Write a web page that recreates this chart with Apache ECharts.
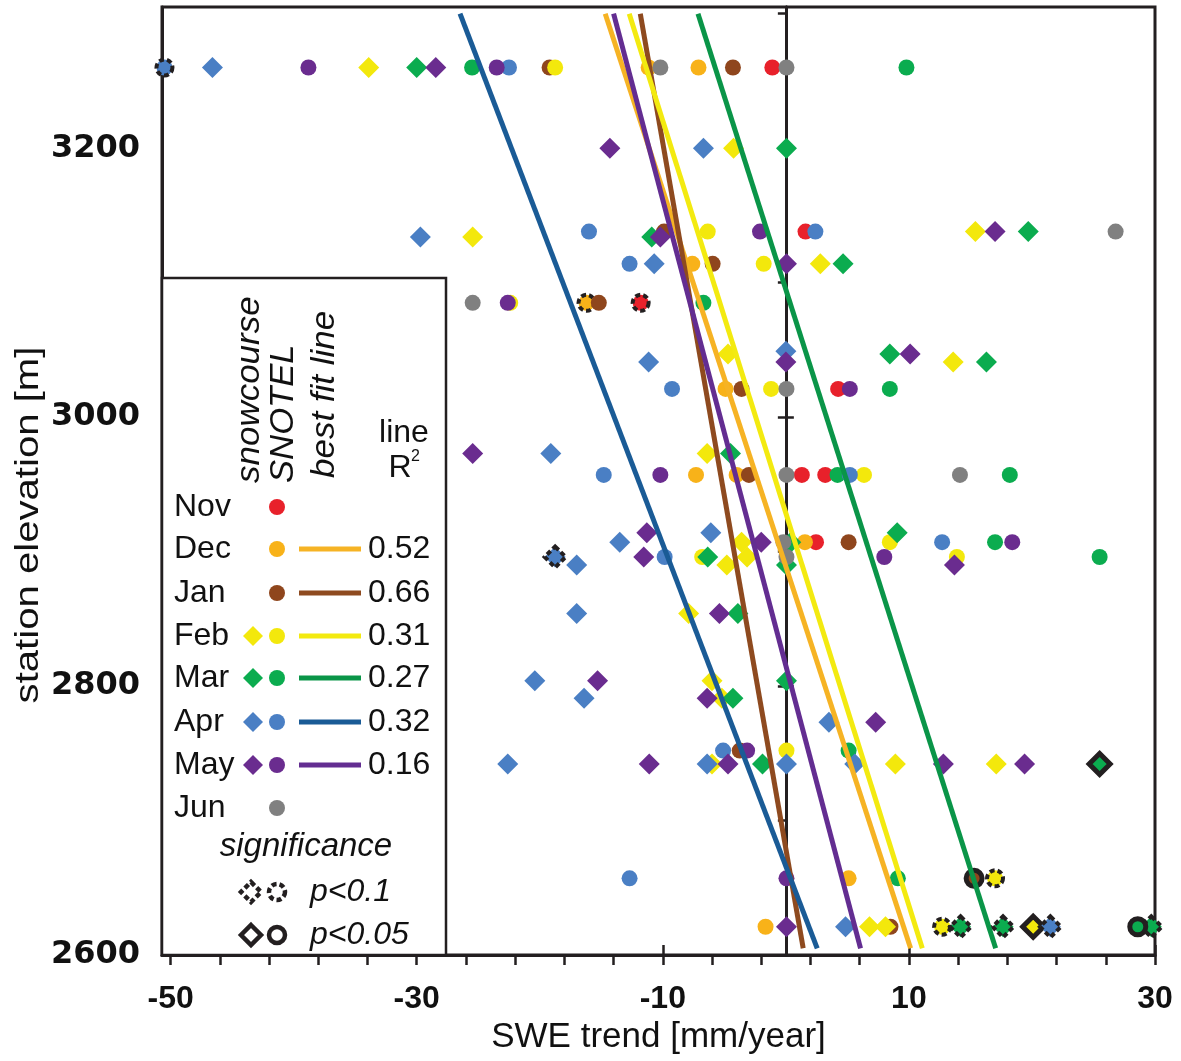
<!DOCTYPE html>
<html>
<head>
<meta charset="utf-8">
<script src="https://cdn.jsdelivr.net/npm/echarts@6/dist/echarts.min.js"></script>
<style>
html, body { margin: 0; padding: 0; background: #fff; }
#chart { width: 1181px; height: 1061px; }
</style>
</head>
<body>
<div id="chart"></div>
<script>
// tick / label values
const xTickValues = [-50,-46,-42,-38,-34,-30,-26,-22,-18,-14,-10,-6,-2,2,6,10,14,18,22,26,30];
const xLabelValues = [-50,-30,-10,10,30];
const yLabelValues = [2600,2800,3000,3200];
const zeroTickValues = [2600,2700,2800,2900,3000,3100,3200,3300];
const zeroCrossValues = [2600,2800,3000,3200];

// [SWE trend, elevation, significance (0 none, 1 p<0.1, 2 p<0.05)]
const novSnotel = [[-1.1,3260,0],[1.6,3138,0],[-11.8,3085,1],[4.25,3021,0],[1.3,2957,0],[3.2,2957,0],[2.45,2907,0]];
const decSnotel = [[-11.15,3260,0],[-7.1,3260,0],[-7.6,3114,0],[-16.2,3085,1],[-4.9,3021,0],[-7.3,2957,0],[-4.0,2957,0],[1.55,2907,0],[5.1,2657,0],[-1.65,2621,0]];
const janSnotel = [[-19.2,3260,0],[-4.3,3260,0],[-9.9,3138,0],[-5.95,3114,0],[-15.2,3085,0],[-3.6,3021,0],[-3.0,2957,0],[5.1,2907,0],[-3.75,2752,0],[15.3,2657,2],[8.5,2621,0]];
const febSnowcourse = [[-33.9,3260,0],[-4.25,3200,0],[-25.45,3134,0],[15.4,3138,0],[2.8,3114,0],[-4.7,3047,0],[13.6,3041,0],[-6.4,2973,0],[-3.6,2907,0],[-3.15,2896,0],[-4.8,2890,0],[-7.9,2854,0],[-6.0,2804,0],[-5.2,2791,0],[-6.0,2742,0],[8.9,2742,0],[17.1,2742,0],[6.8,2621,0],[8.1,2621,0],[20.1,2621,2]];
const febSnotel = [[-18.75,3260,0],[-6.35,3138,0],[-1.8,3114,0],[-22.4,3085,0],[-1.2,3021,0],[6.35,2957,0],[8.45,2907,0],[-6.8,2896,0],[13.9,2896,0],[0.05,2752,0],[17.0,2657,1],[12.7,2621,1]];
const marSnowcourse = [[-30.0,3260,0],[0.05,3200,0],[-10.9,3134,0],[4.65,3114,0],[19.7,3138,0],[8.45,3047,0],[16.3,3041,0],[-4.5,2973,0],[0.4,2907,0],[9.05,2914,0],[-6.35,2896,0],[0.05,2890,0],[-3.9,2854,0],[0.05,2804,0],[-4.3,2791,0],[-1.9,2742,0],[25.5,2742,2],[14.2,2621,1],[17.65,2621,1],[29.7,2621,1]];
const marSnotel = [[-25.5,3260,0],[9.8,3260,0],[-6.7,3085,0],[8.45,3021,0],[4.2,2957,0],[18.2,2957,0],[17.0,2907,0],[25.5,2896,0],[5.1,2752,0],[9.1,2657,0],[28.6,2621,2]];
const aprSnowcourse = [[-46.6,3260,0],[-6.7,3200,0],[-29.7,3134,0],[-10.7,3114,0],[0.0,3049,0],[-11.15,3041,0],[-19.1,2973,0],[-6.1,2914,0],[-13.5,2907,0],[-18.75,2896,1],[-17.0,2890,0],[-17.0,2854,0],[-20.4,2804,0],[-16.4,2791,0],[3.5,2773,0],[-22.6,2742,0],[-6.4,2742,0],[0.05,2742,0],[5.6,2742,0],[4.85,2621,0],[21.5,2621,1]];
const aprSnotel = [[-50.5,3260,1],[-22.5,3260,0],[-16.0,3138,0],[2.4,3138,0],[-12.7,3114,0],[-9.25,3021,0],[-14.8,2957,0],[5.2,2957,0],[12.7,2907,0],[-9.85,2896,0],[-5.1,2752,0],[-12.7,2657,0]];
const maySnowcourse = [[-28.45,3260,0],[-14.3,3200,0],[-10.2,3134,0],[17.0,3138,0],[0.05,3114,0],[10.1,3047,0],[0.0,3041,0],[-25.45,2973,0],[-11.3,2914,0],[-2.0,2907,0],[-11.55,2896,0],[13.7,2890,0],[-5.4,2854,0],[-15.3,2804,0],[-6.4,2791,0],[7.3,2773,0],[-11.1,2742,0],[-4.7,2742,0],[12.8,2742,0],[19.4,2742,0],[0.05,2621,0]];
const maySnotel = [[-38.8,3260,0],[-23.5,3260,0],[-2.1,3138,0],[-22.6,3085,0],[5.2,3021,0],[-10.2,2957,0],[18.4,2907,0],[8.0,2896,0],[-3.15,2752,0],[0.05,2657,0]];
const junSnotel = [[-10.2,3260,0],[0.05,3260,0],[26.8,3138,0],[-25.45,3085,0],[0.05,3021,0],[0.05,2957,0],[14.15,2957,0],[-0.2,2907,0],[0.05,2896,0]];

// best fit lines: trend at the top (3300 m) and bottom (2605 m) ends
const fitMonths = ['Dec','Jan','Feb','Mar','Apr','May'];
const fitElevation = [3300, 2605];
const fitTrendTop = [-14.68, -11.83, -12.73, -7.14, -26.48, -14.0];
const fitTrendBottom = [10.14, 1.41, 11.09, 17.05, 2.55, 6.07];
const fitR2 = ['0.52','0.66','0.31','0.27','0.32','0.16'];

const months = ['Nov','Dec','Jan','Feb','Mar','Apr','May','Jun'];
const pointColors = {Nov:'#e8212b', Dec:'#f8b219', Jan:'#8f461d', Feb:'#f3e80c', Mar:'#0bac4f', Apr:'#4a7fc4', May:'#6a2c8f', Jun:'#808080'};
const lineColors = {Dec:'#f6b324', Jan:'#8e4a1f', Feb:'#f3ea10', Mar:'#0a9548', Apr:'#1a5b96', May:'#632d91'};

const snowcourse = {Feb: febSnowcourse, Mar: marSnowcourse, Apr: aprSnowcourse, May: maySnowcourse};
const snotel = {Nov: novSnotel, Dec: decSnotel, Jan: janSnotel, Feb: febSnotel, Mar: marSnotel, Apr: aprSnotel, May: maySnotel, Jun: junSnotel};

const ink = '#231f20';

function toItems(arr) {
  return arr.map(function (p) {
    let it = {value: [p[0], p[1]]};
    if (p[2] === 1) it.itemStyle = {borderColor: ink, borderWidth: 4, borderType: [5, 3]};
    if (p[2] === 2) it.itemStyle = {borderColor: ink, borderWidth: 5, borderType: 'solid'};
    return it;
  });
}

let series = [];
months.forEach(function (m) {
  if (snowcourse[m]) {
    series.push({
      name: m + ' snowcourse', type: 'scatter', symbol: 'diamond', symbolSize: 21,
      itemStyle: {color: pointColors[m], opacity: 1}, data: toItems(snowcourse[m]), z: 2
    });
  }
  series.push({
    name: m + ' SNOTEL', type: 'scatter', symbol: 'circle', symbolSize: 16,
    itemStyle: {color: pointColors[m], opacity: 1}, data: toItems(snotel[m]), z: 2
  });
});
fitMonths.forEach(function (m, i) {
  series.push({
    name: m + ' fit', type: 'line', symbol: 'none', z: 3,
    lineStyle: {color: lineColors[m], width: 5},
    data: [[fitTrendTop[i], fitElevation[0]], [fitTrendBottom[i], fitElevation[1]]]
  });
});

// legend box, drawn as graphic
const legendRowY = [507, 549, 593, 636, 678, 722, 765, 808];
const font = 'Liberation Sans';
let g = [];
g.push({type: 'rect', shape: {x: 162, y: 278, width: 284, height: 677}, style: {fill: '#fff', stroke: ink, lineWidth: 2.5}, z: 10});
function txt(x, y, s, size, opt) {
  opt = opt || {};
  g.push({type: 'text', x: x, y: y, rotation: opt.rot || 0, scaleX: opt.sx || 1, z: 11,
    style: {text: s, font: (opt.italic ? 'italic ' : '') + size + 'px "' + font + '"', fill: '#111',
      align: opt.align || 'left', verticalAlign: 'middle'}});
}
function diamond(cx, cy, r, fill, stroke, dash) {
  g.push({type: 'polygon', z: 11, shape: {points: [[cx, cy - r], [cx + r, cy], [cx, cy + r], [cx - r, cy]]},
    style: {fill: fill, stroke: stroke || null, lineWidth: stroke ? 4.5 : 0, lineDash: dash || null}});
}
function dot(cx, cy, r, fill, stroke, dash) {
  g.push({type: 'circle', z: 11, shape: {cx: cx, cy: cy, r: r},
    style: {fill: fill, stroke: stroke || null, lineWidth: stroke ? 4.5 : 0, lineDash: dash || null}});
}
txt(250, 483, 'snowcourse', 33, {italic: true, rot: Math.PI / 2, sx: 1.06});
txt(284, 483, 'SNOTEL', 33, {italic: true, rot: Math.PI / 2, sx: 1.05});
txt(325, 478, 'best fit line', 33, {italic: true, rot: Math.PI / 2, sx: 1.06});
txt(404, 433, 'line', 32, {align: 'center'});
txt(400, 468, 'R', 32, {align: 'center'});
txt(411, 457, '2', 16, {align: 'left'});
months.forEach(function (m, i) {
  const y = legendRowY[i];
  txt(174, y, m, 32);
  if (snowcourse[m]) diamond(253, y, 10, pointColors[m]);
  dot(277, y, 8, pointColors[m]);
  const k = fitMonths.indexOf(m);
  if (k >= 0) {
    g.push({type: 'line', z: 11, shape: {x1: 299, y1: y, x2: 361, y2: y}, style: {stroke: lineColors[m], lineWidth: 5}});
    txt(368, y, fitR2[k], 32);
  }
});
txt(306, 847, 'significance', 33, {italic: true, align: 'center'});
diamond(251, 892, 10, '#fff', ink, [5, 3]);
dot(277, 892, 8, '#fff', ink, [5, 3]);
txt(310, 892, 'p<0.1', 32, {italic: true});
diamond(251, 935, 10, '#fff', ink);
dot(277, 935, 8, '#fff', ink);
txt(310, 935, 'p<0.05', 32, {italic: true});
// y axis title
g.push({type: 'text', x: 29, y: 525, rotation: Math.PI / 2, scaleX: 1.18, z: 11,
  style: {text: 'station elevation [m]', font: '34px "' + font + '"', fill: '#111', align: 'center', verticalAlign: 'middle'}});

const plain = function (v) { return String(v); };

const option = {
  animation: false,
  backgroundColor: '#fff',
  textStyle: {fontFamily: font},
  grid: {left: 162, right: 26, top: 7, bottom: 106, show: true, borderColor: ink, borderWidth: 3},
  xAxis: [{
    type: 'value', min: -50.7, max: 30, position: 'bottom',
    axisLine: {onZero: false, lineStyle: {color: ink, width: 3}},
    axisTick: {customValues: xTickValues, length: 10, lineStyle: {color: ink, width: 2.5}},
    axisLabel: {customValues: xLabelValues, formatter: plain, fontSize: 32, fontWeight: 'bold', color: '#111', margin: 28},
    splitLine: {show: false},
    name: 'SWE trend [mm/year]', nameLocation: 'middle', nameGap: 61,
    nameTextStyle: {fontSize: 35, color: '#111'}
  }, {
    type: 'value', min: -50.7, max: 30, position: 'bottom',
    axisLine: {show: false, onZero: false},
    axisTick: {customValues: xLabelValues, inside: true, length: 10, lineStyle: {color: ink, width: 2.5}},
    axisLabel: {show: false}, splitLine: {show: false}
  }],
  yAxis: [{
    type: 'value', min: 2600, max: 3305, position: 'left',
    axisLine: {onZero: false, lineStyle: {color: ink, width: 3}},
    axisTick: {show: false},
    axisLabel: {customValues: yLabelValues, formatter: plain, fontFamily: 'DejaVu Sans', fontWeight: 'bold', fontSize: 32, color: '#111', margin: 22},
    splitLine: {show: false}
  }, {
    type: 'value', min: 2600, max: 3305, position: 'left',
    axisLine: {onZero: true, onZeroAxisIndex: 0, lineStyle: {color: ink, width: 3}},
    axisTick: {customValues: zeroTickValues, length: 8, lineStyle: {color: ink, width: 2.5}},
    axisLabel: {show: false}, splitLine: {show: false}
  }, {
    type: 'value', min: 2600, max: 3305, position: 'left',
    axisLine: {onZero: true, onZeroAxisIndex: 0, lineStyle: {color: ink, width: 3}},
    axisTick: {customValues: zeroCrossValues, inside: true, length: 8, lineStyle: {color: ink, width: 2.5}},
    axisLabel: {show: false}, splitLine: {show: false}
  }],
  graphic: g,
  series: series
};

const chart = echarts.init(document.getElementById('chart'));
chart.setOption(option);
</script>
</body>
</html>
